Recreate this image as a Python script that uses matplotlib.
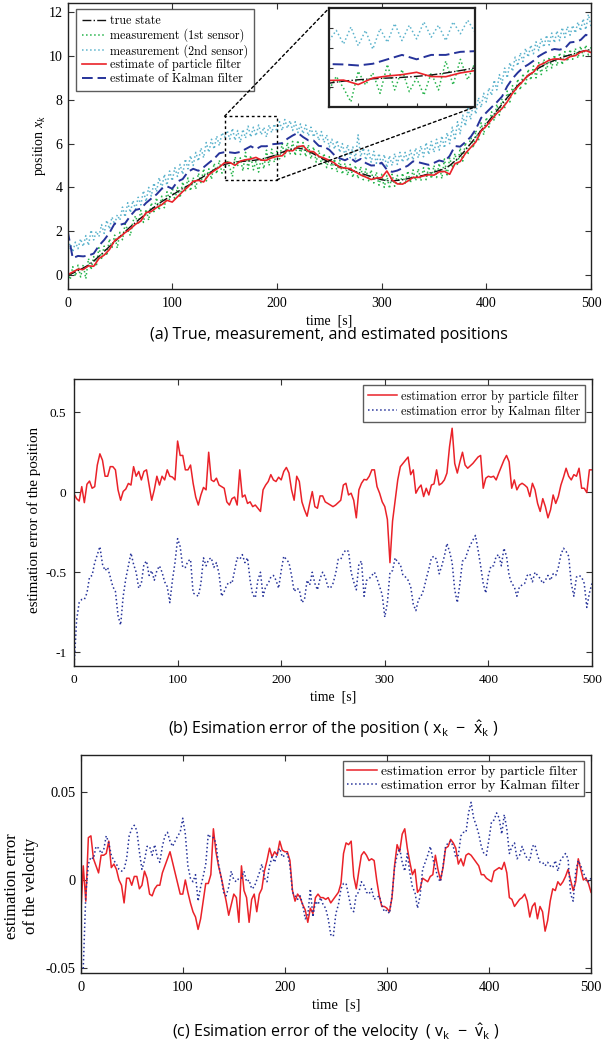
import numpy as np
import matplotlib
matplotlib.use('Agg')
import matplotlib.pyplot as plt
from matplotlib.patches import Rectangle, ConnectionPatch
from matplotlib.lines import Line2D

plt.rcParams['font.family'] = ['Liberation Serif', 'DejaVu Serif']
plt.rcParams['mathtext.fontset'] = 'custom'
plt.rcParams['mathtext.rm'] = 'Open Sans'
plt.rcParams['mathtext.sf'] = 'Open Sans'
plt.rcParams['mathtext.it'] = 'Liberation Serif:italic'
plt.rcParams['axes.unicode_minus'] = False

# ---- data ----
t_state = np.arange(0, 501, 5)          # 5 s grid for state / estimates
t_fine = np.arange(0, 500.1, 2.5)       # 2.5 s grid for measurements / errors

true_state = [
    0.0, 0.08, 0.2, 0.32, 0.45, 0.64, 0.85, 1.07, 1.3, 1.52,
    1.75, 1.98, 2.2, 2.4, 2.6, 2.8, 3.0, 3.18, 3.35, 3.5,
    3.65, 3.8, 3.95, 4.08, 4.2, 4.35, 4.5, 4.65, 4.8, 4.94,
    5.05, 5.11, 5.15, 5.18, 5.2, 5.22, 5.25, 5.29, 5.35, 5.42,
    5.5, 5.6, 5.7, 5.77, 5.8, 5.75, 5.65, 5.53, 5.4, 5.27,
    5.15, 5.05, 4.95, 4.87, 4.8, 4.72, 4.65, 4.57, 4.5, 4.42,
    4.35, 4.31, 4.3, 4.32, 4.35, 4.4, 4.45, 4.5, 4.55, 4.62,
    4.7, 4.77, 4.85, 5.0, 5.2, 5.43, 5.7, 6.0, 6.3, 6.6,
    6.9, 7.2, 7.5, 7.8, 8.1, 8.38, 8.65, 8.9, 9.1, 9.28,
    9.45, 9.58, 9.7, 9.8, 9.9, 9.98, 10.05, 10.12, 10.2, 10.25,
    10.3]

pf_estimate = [
    0.01, 0.135, 0.265, 0.25, 0.415, 0.40, 0.75, 0.91, 1.16, 1.57,
    1.73, 1.935, 2.1, 2.32, 2.46, 2.85, 2.9, 3.08, 3.21, 3.41,
    3.33, 3.57, 3.81, 4.02, 4.28, 4.32, 4.25, 4.58, 4.76, 4.92,
    5.13, 5.14, 5.01, 5.2, 5.26, 5.3, 5.37, 5.245, 5.24, 5.35,
    5.42, 5.445, 5.685, 5.67, 5.86, 5.9, 5.65, 5.63, 5.42, 5.34,
    5.24, 5.115, 4.905, 4.89, 4.85, 4.705, 4.57, 4.47, 4.36, 4.43,
    4.44, 4.75, 4.35, 4.16, 4.15, 4.29, 4.456, 4.455, 4.525, 4.575,
    4.56, 4.71, 4.73, 4.6, 5.08, 5.18, 5.55, 5.82, 6.08, 6.575,
    6.8, 7.1, 7.38, 7.6, 7.91, 8.3, 8.6, 8.855, 9.127, 9.265,
    9.57, 9.67, 9.81, 9.87, 9.855, 9.83, 9.97, 10.02, 10.175, 10.25,
    10.16]

kf_estimate = [
    2.05, 0.77, 0.87, 0.85, 0.89, 0.98, 1.34, 1.6, 1.92, 2.35,
    2.29, 2.36, 2.7, 2.97, 3.03, 3.29, 3.49, 3.68, 3.94, 4.05,
    3.94, 4.27, 4.38, 4.71, 4.85, 4.76, 4.92, 5.12, 5.31, 5.56,
    5.61, 5.6, 5.57, 5.62, 5.75, 5.88, 5.75, 5.88, 5.88, 5.97,
    5.99, 6.02, 6.22, 6.37, 6.49, 6.3, 6.15, 6.14, 5.9, 5.86,
    5.72, 5.47, 5.33, 5.24, 5.36, 5.17, 5.3, 5.11, 5.0, 5.01,
    5.13, 4.81, 4.71, 4.77, 4.88, 4.99, 5.19, 5.15, 5.09, 5.03,
    5.12, 5.23, 5.17, 5.44, 5.89, 5.86, 6.07, 6.3, 6.66, 7.17,
    7.42, 7.66, 7.89, 8.15, 8.62, 8.97, 9.24, 9.47, 9.61, 9.78,
    9.99, 10.13, 10.25, 10.32, 10.29, 10.35, 10.62, 10.65, 10.73, 10.97,
    10.87]

meas_1st = [
    0.10, -0.21, 0.38, -0.06, 0.45, -0.09, 0.47, -0.17, 0.75, 0.24,
    0.84, 0.39, 1.25, 0.76, 1.32, 0.88, 1.65, 1.26, 1.82, 1.23,
    1.95, 1.61, 2.33, 2.05, 1.8, 2.45, 2.7, 2.3, 2.95, 2.4,
    3.0, 2.5, 3.3, 2.89, 3.53, 2.96, 3.6, 3.07, 3.8, 3.42,
    4.0, 3.42, 4.0, 3.53, 4.25, 3.82, 4.43, 3.84, 4.45, 3.92,
    4.65, 4.22, 4.85, 4.27, 4.85, 4.37, 5.1, 4.62, 5.24, 4.65,
    4.85, 5.25, 4.9, 4.5, 5.4, 5.0, 5.35, 4.75, 5.6, 4.85,
    5.45, 4.8, 5.2, 4.7, 5.35, 4.85, 5.7, 5.0, 5.75, 5.15,
    5.65, 5.3, 6.0, 5.4, 6.05, 5.5, 6.1, 5.45, 6.15, 5.5,
    6.05, 5.4, 5.95, 5.3, 5.85, 5.15, 5.7, 5.05, 5.55, 4.9,
    5.4, 4.85, 5.3, 4.7, 5.25, 4.6, 5.1, 4.55, 5.05, 4.45,
    5.0, 4.4, 4.95, 4.35, 4.85, 4.3, 4.8, 4.2, 4.7, 4.1,
    4.6, 4.0, 4.55, 3.95, 4.6, 4.05, 4.55, 4.1, 4.65, 4.15,
    4.75, 4.2, 4.8, 4.3, 4.85, 4.3, 4.9, 4.35, 4.95, 4.4,
    5.0, 4.45, 5.1, 4.4, 5.3, 4.5, 5.35, 4.9, 5.55, 5.0,
    5.8, 5.2, 6.05, 5.5, 6.35, 5.8, 6.6, 6.1, 6.95, 6.4,
    7.2, 6.75, 7.45, 7.05, 7.8, 7.3, 8.05, 7.6, 8.4, 7.9,
    8.65, 8.2, 8.95, 8.45, 9.2, 8.65, 9.4, 8.9, 9.55, 9.0,
    9.7, 9.15, 9.85, 9.3, 9.95, 9.45, 10.05, 9.55, 10.15, 9.6,
    10.2, 9.75, 10.3, 9.85, 10.35, 9.9, 10.45, 10.0, 10.5, 10.05,
    10.4]

meas_2nd = [
    1.0, 1.45, 1.05, 1.5, 1.2, 1.65, 1.3, 1.8, 1.35, 2.05,
    1.6, 2.0, 1.75, 2.3, 1.9, 2.5, 2.1, 2.65, 2.3, 2.75,
    2.5, 3.1, 2.65, 3.3, 2.85, 3.4, 3.0, 3.55, 3.2, 3.85,
    3.35, 4.0, 3.6, 4.2, 3.8, 4.45, 3.95, 4.6, 4.1, 4.75,
    4.3, 4.9, 4.5, 5.05, 4.6, 5.3, 4.85, 5.45, 5.0, 5.6,
    5.2, 5.8, 5.35, 6.05, 5.6, 6.2, 5.75, 6.35, 5.9, 6.5,
    6.3, 6.6, 6.2, 6.7, 6.15, 6.6, 6.05, 6.65, 6.25, 6.8,
    6.3, 6.75, 6.35, 6.85, 6.4, 6.75, 6.3, 6.85, 6.5, 6.9,
    6.55, 7.0, 6.6, 7.1, 6.7, 7.05, 6.6, 7.0, 6.5, 6.9,
    6.45, 6.85, 6.35, 6.75, 6.3, 6.6, 6.15, 6.55, 6.05, 6.4,
    5.85, 6.2, 5.75, 6.15, 5.6, 6.0, 5.45, 5.95, 5.35, 5.85,
    5.3, 6.4, 5.4, 5.8, 5.25, 5.7, 5.15, 5.65, 5.1, 5.55,
    5.0, 5.5, 4.9, 5.45, 5.0, 5.55, 5.05, 5.6, 5.15, 5.6,
    5.2, 5.7, 5.25, 5.8, 5.35, 5.9, 5.4, 6.05, 5.5, 6.1,
    5.6, 6.2, 5.7, 6.35, 5.8, 6.5, 6.0, 6.75, 6.15, 7.0,
    6.45, 7.3, 6.8, 7.6, 7.1, 7.85, 7.35, 8.1, 7.65, 8.3,
    7.9, 8.55, 8.2, 8.9, 8.45, 9.15, 8.75, 9.45, 9.0, 9.7,
    9.3, 9.95, 9.55, 10.15, 9.75, 10.35, 9.95, 10.5, 10.1, 10.65,
    10.25, 10.8, 10.4, 10.95, 10.5, 11.05, 10.6, 11.15, 10.7, 11.3,
    10.85, 11.35, 10.95, 11.4, 11.05, 11.55, 11.15, 11.7, 11.2, 11.9,
    11.35]

pf_pos_err = [
    -0.01, -0.04, -0.055, 0.035, -0.065, 0.05, 0.07, 0.025, 0.035, 0.17,
    0.24, 0.2, 0.1, 0.1, 0.16, 0.16, 0.14, 0.015, -0.05, 0.005,
    0.02, 0.055, 0.045, 0.16, 0.1, 0.13, 0.077, 0.13, 0.14, 0.045,
    -0.05, 0.015, 0.1, 0.045, 0.1, 0.077, 0.14, 0.1, 0.095, 0.077,
    0.32, 0.23, 0.23, 0.14, 0.14, 0.17, 0.056, -0.03, -0.08, -0.017,
    0.03, 0.015, 0.25, 0.077, 0.067, 0.088, 0.045, 0.035, 0.025, -0.06,
    -0.08, -0.04, -0.03, -0.08, 0.14, -0.03, -0.017, -0.07, -0.06, -0.09,
    -0.08, -0.1, -0.12, 0.015, 0.045, 0.067, 0.11, 0.077, 0.067, 0.094,
    0.077, 0.13, 0.155, 0.12, 0.015, -0.05, 0.1, 0.067, -0.06, -0.11,
    -0.15, -0.07, 0.004, -0.09, -0.1, -0.023, -0.023, -0.06, -0.07, -0.08,
    -0.09, -0.08, -0.065, -0.05, 0.045, 0.056, -0.017, -0.006, -0.05, -0.16,
    0.015, 0.056, 0.08, 0.077, 0.1, 0.14, 0.14, 0.035, -0.006, -0.06,
    -0.09, -0.17, -0.44, -0.18, -0.05, 0.077, 0.16, 0.18, 0.2, 0.22,
    0.11, 0.14, -0.006, 0.025, 0.045, -0.027, 0.025, -0.017, 0.045, 0.052,
    0.14, 0.045, 0.056, 0.077, 0.12, 0.285, 0.4, 0.18, 0.12, 0.19,
    0.25, 0.17, 0.15, 0.165, 0.18, 0.2, 0.22, 0.23, 0.025, 0.088,
    0.1, 0.094, 0.1, 0.077, 0.12, 0.16, 0.2, 0.23, 0.19, 0.025,
    0.077, 0.015, 0.045, 0.056, 0.045, 0.03, -0.027, 0.056, 0.015, -0.07,
    -0.12, -0.04, -0.09, -0.16, -0.11, -0.017, -0.07, -0.027, 0.045, 0.094,
    0.15, 0.1, 0.077, 0.11, 0.1, 0.15, 0.025, 0.025, -0.002, 0.14,
    0.14]

kf_pos_err = [
    -1.1, -0.8, -0.69, -0.67, -0.67, -0.63, -0.53, -0.52, -0.44, -0.39,
    -0.34, -0.45, -0.49, -0.47, -0.53, -0.59, -0.62, -0.77, -0.83, -0.65,
    -0.54, -0.46, -0.38, -0.45, -0.5, -0.6, -0.57, -0.45, -0.43, -0.52,
    -0.49, -0.55, -0.49, -0.46, -0.5, -0.56, -0.59, -0.69, -0.55, -0.44,
    -0.29, -0.34, -0.47, -0.47, -0.43, -0.42, -0.63, -0.64, -0.65, -0.57,
    -0.41, -0.46, -0.42, -0.41, -0.47, -0.44, -0.51, -0.65, -0.62, -0.58,
    -0.56, -0.57, -0.49, -0.41, -0.42, -0.39, -0.44, -0.41, -0.55, -0.64,
    -0.66, -0.55, -0.5, -0.65, -0.59, -0.57, -0.53, -0.52, -0.55, -0.6,
    -0.49, -0.4, -0.42, -0.44, -0.52, -0.62, -0.6, -0.61, -0.69, -0.67,
    -0.55, -0.58, -0.5, -0.57, -0.61, -0.54, -0.5, -0.53, -0.59, -0.6,
    -0.57, -0.51, -0.42, -0.42, -0.38, -0.36, -0.37, -0.5, -0.56, -0.61,
    -0.45, -0.43, -0.65, -0.55, -0.54, -0.52, -0.5, -0.54, -0.59, -0.64,
    -0.78, -0.69, -0.5, -0.49, -0.41, -0.44, -0.45, -0.52, -0.53, -0.55,
    -0.59, -0.7, -0.74, -0.67, -0.65, -0.61, -0.54, -0.48, -0.41, -0.4,
    -0.42, -0.51, -0.46, -0.4, -0.32, -0.37, -0.44, -0.61, -0.69, -0.57,
    -0.43, -0.42, -0.37, -0.33, -0.3, -0.27, -0.36, -0.46, -0.57, -0.63,
    -0.52, -0.46, -0.46, -0.4, -0.39, -0.46, -0.35, -0.4, -0.52, -0.57,
    -0.59, -0.65, -0.59, -0.58, -0.57, -0.52, -0.51, -0.56, -0.5, -0.52,
    -0.54, -0.57, -0.55, -0.52, -0.55, -0.51, -0.52, -0.47, -0.39, -0.35,
    -0.37, -0.4, -0.57, -0.65, -0.53, -0.52, -0.53, -0.57, -0.72, -0.63,
    -0.57]

pf_vel_err = [
    -0.02, 0.008, -0.012, 0.024, 0.025, 0.012, 0.008, 0.004, 0.014, 0.014,
    0.015, 0.022, 0.007, 0.009, 0.006, 0.0, -0.003, -0.013, 0.001, 0.001,
    -0.003, 0.002, 0.002, -0.005, -0.003, 0.005, 0.001, -0.008, -0.009, -0.005,
    -0.003, -0.003, 0.004, 0.008, 0.012, 0.016, 0.01, 0.004, -0.002, -0.008,
    -0.008, 0.0, -0.007, -0.013, -0.018, -0.021, -0.028, -0.022, -0.012, -0.002,
    -0.002, 0.003, 0.029, 0.016, 0.008, 0.002, -0.005, -0.012, -0.02, -0.014,
    -0.008, -0.01, -0.024, 0.008, -0.006, -0.01, -0.024, -0.011, -0.008, -0.018,
    -0.008, -0.005, 0.005, 0.011, 0.018, 0.013, 0.016, 0.014, 0.022, 0.017,
    0.016, 0.016, 0.011, -0.006, -0.012, -0.008, -0.01, -0.014, -0.017, -0.024,
    -0.016, -0.019, -0.01, -0.008, -0.01, -0.01, -0.011, -0.01, -0.013, -0.011,
    -0.009, -0.007, -0.002, 0.015, 0.021, 0.02, 0.022, 0.002, -0.005, 0.005,
    0.014, 0.016, 0.014, 0.011, 0.012, 0.011, 0.0, -0.009, -0.015, -0.015,
    -0.016, -0.018, -0.01, 0.008, 0.02, 0.016, 0.026, 0.029, 0.018, 0.01,
    0.003, 0.006, -0.007, -0.005, 0.001, 0.0, -0.001, 0.002, 0.003, 0.014,
    0.006, 0.0, 0.007, 0.018, 0.019, 0.023, 0.021, 0.018, 0.009, 0.012,
    0.008, 0.014, 0.015, 0.014, 0.012, 0.01, 0.008, 0.003, 0.003, 0.001,
    0.0, -0.001, 0.005, 0.006, 0.007, 0.006, 0.01, 0.004, -0.01, -0.011,
    -0.015, -0.013, -0.011, -0.01, -0.008, -0.012, -0.021, -0.015, -0.013, -0.022,
    -0.015, -0.018, -0.029, -0.023, -0.012, -0.005, -0.006, -0.001, -0.003, -0.001,
    0.002, 0.006, 0.0, -0.006, -0.001, 0.012, 0.006, 0.0, 0.001, -0.002,
    -0.007]

kf_vel_err = [
    -0.052, -0.05, -0.008, 0.009, 0.013, 0.012, 0.019, 0.018, 0.015, 0.017,
    0.025, 0.021, 0.014, 0.011, 0.009, 0.006, 0.005, 0.006, 0.012, 0.025,
    0.029, 0.031, 0.028, 0.016, 0.006, 0.011, 0.019, 0.019, 0.014, 0.02,
    0.013, 0.01, 0.019, 0.025, 0.027, 0.022, 0.019, 0.022, 0.025, 0.027,
    0.035, 0.026, 0.008, 0.001, -0.001, 0.003, -0.012, -0.004, 0.002, 0.009,
    0.026, 0.024, 0.024, 0.021, 0.009, 0.002, -0.007, -0.009, -0.004, 0.005,
    0.0, -0.001, 0.001, 0.001, 0.005, -0.001, 0.0, -0.005, -0.004, 0.0,
    0.004, 0.009, 0.001, -0.001, 0.008, 0.013, 0.01, 0.015, 0.018, 0.013,
    0.014, 0.015, 0.008, -0.007, -0.009, -0.011, -0.009, -0.014, -0.022, -0.02,
    -0.005, -0.021, -0.012, -0.014, -0.01, -0.014, -0.016, -0.022, -0.031, -0.032,
    -0.019, -0.014, -0.005, -0.002, -0.002, -0.009, -0.016, -0.018, -0.008, -0.007,
    -0.001, -0.003, -0.007, -0.008, -0.005, -0.011, -0.01, -0.009, -0.014, -0.018,
    -0.017, -0.019, -0.009, 0.007, 0.014, 0.018, 0.01, 0.005, 0.015, 0.004,
    -0.004, -0.007, -0.016, -0.009, 0.006, 0.01, 0.014, 0.019, 0.012, 0.007,
    0.001, -0.001, 0.008, 0.019, 0.021, 0.022, 0.019, 0.013, 0.014, 0.025,
    0.027, 0.027, 0.038, 0.044, 0.035, 0.031, 0.026, 0.019, 0.015, 0.014,
    0.023, 0.033, 0.034, 0.038, 0.035, 0.026, 0.037, 0.029, 0.015, 0.019,
    0.021, 0.012, 0.014, 0.019, 0.015, 0.012, 0.011, 0.019, 0.02, 0.014,
    0.01, 0.01, 0.008, 0.01, 0.008, 0.007, 0.011, 0.005, 0.011, 0.013,
    0.015, 0.012, -0.008, -0.012, 0.005, 0.011, 0.008, 0.004, 0.001, -0.001,
    0.001]

x_ticks = [0, 100, 200, 300, 400, 500]
a_yticks = [0, 2, 4, 6, 8, 10, 12]
b_yticks = [-1, -0.5, 0, 0.5]
b_ylabels = ['-1', '-0.5', '0', '0.5']
c_yticks = [-0.05, 0, 0.05]
c_ylabels = ['-0.05', '0', '0.05']
zoom_box = (150, 200, 4.35, 7.25)   # x0, x1, y0, y1 of the magnified region

# colours
c_green = '#25b34a'
c_cyan = '#5cb3cc'
c_red = '#ea2229'
c_blue = '#26339a'
c_black = '#111111'
leg_font = 'cmr10'

fig = plt.figure(figsize=(6.05, 10.46), dpi=100)
ax_a = fig.add_axes([0.1116, 0.7237, 0.8653, 0.2734])
ax_b = fig.add_axes([0.1223, 0.3636, 0.8562, 0.2741])
ax_c = fig.add_axes([0.1334, 0.0698, 0.8435, 0.2084])


def style_axes(ax, size, ypad):
    ax.set_xlim(0, 500)
    ax.set_xticks(x_ticks)
    ax.tick_params(direction='in', top=True, right=True, length=4, width=0.8,
                   labelsize=size, color='#333333')
    ax.tick_params(axis='x', pad=6)
    ax.tick_params(axis='y', pad=ypad)
    for s in ax.spines.values():
        s.set_linewidth(1.0)
        s.set_color('#222222')


def draw_state(ax, lw_scale=1.0):
    ax.plot(t_fine, meas_2nd, ls=':', color=c_cyan, lw=1.1 * lw_scale)
    ax.plot(t_fine, meas_1st, ls=':', color=c_green, lw=1.1 * lw_scale)
    ax.plot(t_state, kf_estimate, ls=(0, (5.5, 2.5)), color=c_blue, lw=1.4 * lw_scale)
    ax.plot(t_state, true_state, ls='-.', color=c_black, lw=1.0 * lw_scale)
    ax.plot(t_state, pf_estimate, ls='-', color=c_red, lw=1.2 * lw_scale)


# ---- (a) positions ----
draw_state(ax_a)
style_axes(ax_a, 10, 3.5)
ax_a.set_ylim(-0.64, 12.42)
ax_a.set_yticks(a_yticks)
ax_a.set_xlabel('time  [s]', fontsize=10, labelpad=3)
ax_a.set_ylabel('position $x_k$', fontsize=10)
ax_a.yaxis.set_label_coords(-0.037, 0.5)

handles = [
    Line2D([], [], ls='-.', color=c_black, lw=1.0),
    Line2D([], [], ls=':', color=c_green, lw=1.1),
    Line2D([], [], ls=':', color=c_cyan, lw=1.1),
    Line2D([], [], ls='-', color=c_red, lw=1.2),
    Line2D([], [], ls=(0, (5.5, 2.5)), color=c_blue, lw=1.4),
]
labels = ['true state', 'measurement (1st sensor)', 'measurement (2nd sensor)',
          'estimate of particle filter', 'estimate of Kalman filter']
leg = ax_a.legend(handles, labels, loc='upper left', bbox_to_anchor=(0.016, 0.979),
                  borderaxespad=0, fancybox=False, prop={'family': leg_font, 'size': 8.7},
                  handlelength=2.0, handletextpad=0.3, labelspacing=0.12, borderpad=0.5)
leg.get_frame().set_edgecolor('#333333')
leg.get_frame().set_linewidth(1.0)

x0, x1, y0, y1 = zoom_box
ax_a.add_patch(Rectangle((x0, y0), x1 - x0, y1 - y0, fill=False, ec='k',
                         lw=1.0, ls=(0, (2, 2)), zorder=5))

ax_in = fig.add_axes([0.5438, 0.8977, 0.2413, 0.0944])
draw_state(ax_in, 1.0)
ax_in.set_xlim(x0, x1)
ax_in.set_ylim(y0, y1)
ax_in.set_xticks(np.linspace(x0, x1, 6)[1:-1])
ax_in.set_yticks(np.linspace(y0, y1, 6)[1:-1])
ax_in.tick_params(direction='in', length=3, labelbottom=False, labelleft=False,
                  color='#333333')
for s in ax_in.spines.values():
    s.set_linewidth(1.6)
    s.set_color('#222222')

for xyA, xyB in [((x0, y1), (0, 1)), ((x1, y0), (1, 0))]:
    con = ConnectionPatch(xyA=xyA, coordsA=ax_a.transData, xyB=xyB,
                          coordsB=ax_in.transAxes, ls=(0, (2, 2)), lw=1.0, color='k')
    fig.add_artist(con)

# ---- (b) position error ----
ax_b.plot(t_fine, pf_pos_err, color=c_red, lw=1.1, label='estimation error by particle filter')
ax_b.plot(t_fine, kf_pos_err, color=c_blue, lw=1.1, ls=':', label='estimation error by Kalman filter')
style_axes(ax_b, 9.6, 5.5)
ax_b.set_ylim(-1.084, 0.708)
ax_b.set_yticks(b_yticks, b_ylabels)
ax_b.set_xlabel('time  [s]', fontsize=10, labelpad=3)
ax_b.set_ylabel('estimation error of the position', fontsize=10.8)
ax_b.yaxis.set_label_coords(-0.064, 0.508)
leg = ax_b.legend(loc='upper right', bbox_to_anchor=(0.9865, 0.979), borderaxespad=0,
                  fancybox=False, prop={'family': leg_font, 'size': 8.8},
                  handlelength=2.4, handletextpad=0.3, labelspacing=0.2, borderpad=0.4)
leg.get_frame().set_edgecolor('#333333')
leg.get_frame().set_linewidth(1.0)

# ---- (c) velocity error ----
ax_c.plot(t_fine, pf_vel_err, color=c_red, lw=1.1, label='estimation error by particle filter')
ax_c.plot(t_fine, kf_vel_err, color=c_blue, lw=1.1, ls=':', label='estimation error by Kalman filter')
style_axes(ax_c, 10.4, 4)
ax_c.set_ylim(-0.0527, 0.0708)
ax_c.set_yticks(c_yticks, c_ylabels)
ax_c.set_xlabel('time  [s]', fontsize=10.5, labelpad=3)
ax_c.set_ylabel('estimation error\nof the velocity', fontsize=12, linespacing=1.2)
ax_c.yaxis.set_label_coords(-0.082, 0.40)
leg = ax_c.legend(loc='upper right', bbox_to_anchor=(0.986, 0.9725), borderaxespad=0,
                  fancybox=False, prop={'family': leg_font, 'size': 9.8},
                  handlelength=2.2, handletextpad=0.3, labelspacing=0.12, borderpad=0.3)
leg.get_frame().set_edgecolor('#333333')
leg.get_frame().set_linewidth(1.0)

# ---- captions ----
cap_font = ['Open Sans', 'DejaVu Sans']
fig.text(329 / 605, 1 - 335 / 1046, '(a) True, measurement, and estimated positions',
         ha='center', va='center', family=cap_font, fontsize=11.5)
fig.text(333 / 605, 1 - 729 / 1046,
         r'(b) Esimation error of the position ( $\mathrm{x_k}$  −  $\mathrm{\hat{x}_k}$ )',
         ha='center', va='center', family=cap_font, fontsize=11.5)
fig.text(336 / 605, 1 - 1032 / 1046,
         r'(c) Esimation error of the velocity  ( $\mathrm{v_k}$  −  $\mathrm{\hat{v}_k}$ )',
         ha='center', va='center', family=cap_font, fontsize=11.5)

fig.savefig('out.png', dpi=100)
